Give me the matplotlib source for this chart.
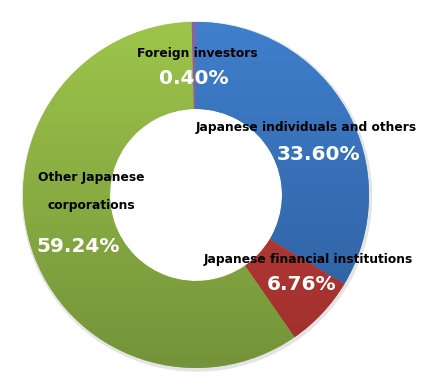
import numpy as np
import matplotlib.pyplot as plt
import matplotlib.colors as mcolors

# shareholder composition (percent)
labels = ["Japanese individuals and others", "Japanese financial institutions",
          "Other Japanese\n\ncorporations", "Foreign investors"]
shares = [33.60, 6.76, 59.24, 0.40]
pct_text = ["33.60%", "6.76%", "59.24%", "0.40%"]

# top / bottom colour of each slice gradient
top_cols = ["#3f7fcc", "#c8443f", "#9dc54a", "#8466a8"]
bot_cols = ["#2d5c9c", "#9e2f2c", "#74933a", "#6b5290"]

W, H = 439, 385
fig = plt.figure(figsize=(W / 100, H / 100), dpi=100)
ax = fig.add_axes([0, 0, 1, 1])

cx, cy = 196, H - 195
R, ring = 173, 87

# faint shadow around the ring
ax.add_patch(plt.Circle((cx + 1, cy - 1.5), R + 1.5, color="#e4e4e4", zorder=0))

wedges, _ = ax.pie(shares, radius=R, center=(cx, cy), startangle=90,
                   counterclock=False, colors=top_cols, frame=True,
                   wedgeprops=dict(width=ring, linewidth=0))
ax.add_patch(plt.Circle((cx, cy), R - ring, color="white", zorder=0.5))
ax.set_xlim(0, W)
ax.set_ylim(0, H)
ax.set_aspect("equal")
ax.axis("off")

# vertical gradient fill clipped to each wedge
for w, c1, c2 in zip(wedges, top_cols, bot_cols):
    cmap = mcolors.LinearSegmentedColormap.from_list("g", [c2, c1])
    grad = np.linspace(0, 1, 256).reshape(-1, 1)
    im = ax.imshow(grad, cmap=cmap, origin="lower", aspect="auto",
                   extent=(cx - R, cx + R, cy - R, cy + R), zorder=2,
                   interpolation="bilinear")
    im.set_clip_path(w)

lab_font = dict(fontsize=8.8, color="black", fontweight="bold",
                ha="center", va="center", zorder=5)
pct_font = dict(fontsize=14.5, color="white", fontweight="bold",
                ha="center", va="center", zorder=5)

lab_pos = [(306, 128), (308, 259), (91, 192), (197, 54)]
pct_pos = [(319, 154), (302, 284), (78, 247), (194, 78)]

for t, (x, y) in zip(labels, lab_pos):
    ax.text(x, H - y, t, linespacing=1.1, **lab_font)
for t, (x, y) in zip(pct_text, pct_pos):
    ax.text(x, H - y, t, **pct_font)

fig.savefig("out.png", dpi=100)
